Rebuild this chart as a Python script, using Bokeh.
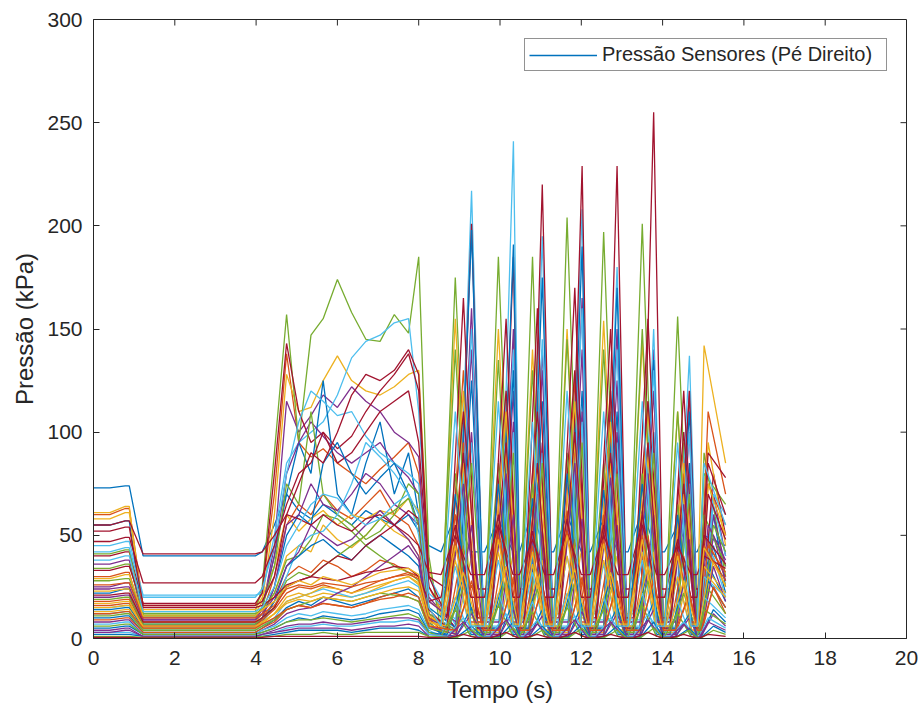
import math
from bokeh.plotting import figure
from bokeh.models import Range1d, FixedTicker, Legend, LegendItem, ColumnDataSource
from bokeh.embed import file_html
from bokeh.resources import INLINE

# MATLAB default colour order (sensor i uses COLORS[i % 7])
COLORS = ["#0072BD", "#D95319", "#EDB120", "#7E2F8E", "#77AC30", "#4DBEEE", "#A2142F"]

X_TICKS = [0, 2, 4, 6, 8, 10, 12, 14, 16, 18, 20]
Y_TICKS = [0, 50, 100, 150, 200, 250, 300]

# ---- key times (s) ----
T_START = [0.0, 0.4, 0.78, 0.88, 1.22, 3.98]       # initial plateau, bump, drop, rest
STANCE_T = [4.15, 4.45, 4.75, 5.05, 5.35, 5.65, 6.0, 6.35, 6.7, 7.05, 7.4, 7.75, 8.0, 8.25]
H_UP = [8.55, 9.62, 10.48, 11.32, 12.22, 13.15, 14.05, 14.85]
H_PK = [8.90, 9.96, 10.80, 11.65, 12.55, 13.50, 14.37, 15.02]
H_DN = [9.28, 10.32, 11.10, 12.00, 12.90, 13.85, 14.70, 15.30]
M_UP = [8.70, 9.75, 10.58, 11.45, 12.35, 13.28, 14.18, 14.90]
M_PK = [9.10, 10.15, 10.92, 11.84, 12.72, 13.64, 14.52, 15.12]
M_DN = [9.45, 10.45, 11.22, 12.15, 13.05, 13.98, 14.82, 15.40]
F_UP = [8.92, 9.98, 10.72, 11.68, 12.55, 13.45, 14.32, 14.95]
F_PK = [9.30, 10.33, 11.04, 12.02, 12.88, 13.78, 14.66, 15.25]
F_DN = [9.60, 10.50, 11.30, 12.22, 13.12, 14.02, 14.86, 15.45]
T_END = 15.55

# ---- sensor values (kPa) ----
INIT = [73, 60, 61, 36, 34, 45, 40,
        55, 30, 58, 25, 41, 42, 47,
        22, 18, 23, 20, 28, 15, 52,
        14, 16, 13, 24, 19, 12, 55,
        10, 9, 17, 8, 11, 7, 21,
        5, 26, 15, 4, 6, 3, 33,
        2, 12, 29, 3, 1, 38, 0.5]
INIT_BUMP = [74, 63, 64, 38, 36, 47, 42,
             57, 32, 61, 27, 43, 44, 49,
             24, 19, 24, 21, 29, 16, 54,
             15, 17, 14, 25, 20, 13, 57,
             11, 10, 18, 9, 12, 8, 22,
             6, 27, 16, 5, 7, 3, 35,
             2, 13, 31, 4, 1, 40, 0.5]
REST = [40, 16, 12, 9, 13, 21, 17,
        11, 8, 14, 10, 11, 20, 27,
        7, 6, 8, 6, 12, 5, 16,
        5, 6, 4, 9, 7, 4, 41,
        3, 3, 5, 2, 4, 2, 8,
        2, 10, 6, 1, 2, 1, 15,
        1, 5, 11, 1, 0.5, 13, 0.3]
STANCE = [
    [42, 55, 70, 62, 58, 65, 60, 55, 62, 58, 55, 60, 52, 45],
    [22, 70, 138, 95, 88, 92, 85, 80, 75, 82, 88, 95, 80, 25],
    [18, 60, 128, 110, 112, 125, 137, 125, 120, 118, 122, 128, 130, 35],
    [14, 45, 115, 100, 108, 118, 112, 122, 115, 110, 100, 95, 88, 20],
    [25, 90, 157, 95, 147, 155, 174, 158, 145, 144, 157, 148, 185, 40],
    [22, 50, 85, 95, 100, 105, 118, 136, 144, 147, 153, 155, 110, 30],
    [22, 80, 143, 110, 95, 100, 92, 98, 110, 120, 128, 138, 120, 25],
    [15, 40, 70, 95, 80, 125, 70, 60, 85, 105, 70, 90, 60, 15],
    [12, 30, 55, 65, 60, 70, 62, 58, 65, 72, 60, 55, 45, 12],
    [20, 35, 60, 52, 58, 62, 55, 60, 58, 62, 60, 68, 62, 18],
    [15, 40, 80, 95, 105, 98, 90, 85, 90, 95, 85, 78, 70, 18],
    [15, 35, 75, 65, 110, 70, 60, 55, 48, 52, 60, 75, 70, 15],
    [24, 45, 80, 105, 120, 115, 108, 110, 98, 90, 85, 80, 75, 22],
    [30, 45, 65, 80, 85, 100, 85, 90, 100, 110, 115, 120, 95, 30],
    [10, 25, 50, 60, 55, 85, 95, 80, 70, 78, 85, 70, 55, 10],
    [10, 18, 30, 35, 32, 38, 35, 30, 33, 38, 36, 32, 30, 10],
    [12, 22, 40, 45, 42, 55, 48, 44, 50, 58, 52, 48, 40, 12],
    [10, 25, 55, 60, 75, 65, 62, 70, 80, 75, 65, 60, 55, 12],
    [14, 22, 38, 40, 48, 60, 58, 52, 45, 40, 35, 32, 28, 8],
    [8, 15, 30, 45, 50, 52, 60, 75, 95, 88, 80, 70, 50, 10],
    [18, 30, 60, 75, 90, 85, 100, 118, 128, 125, 130, 140, 128, 30],
    [8, 18, 35, 40, 45, 48, 42, 38, 45, 50, 45, 40, 35, 8],
    [9, 14, 22, 25, 24, 26, 24, 22, 25, 28, 30, 32, 30, 9],
    [7, 12, 20, 22, 20, 22, 21, 20, 22, 25, 28, 30, 26, 8],
    [12, 20, 35, 42, 55, 50, 45, 48, 55, 62, 55, 48, 40, 10],
    [10, 15, 28, 32, 30, 35, 40, 45, 50, 58, 62, 68, 55, 12],
    [6, 10, 18, 20, 22, 24, 22, 20, 22, 24, 26, 28, 25, 6],
    [42, 50, 60, 58, 55, 60, 55, 52, 58, 60, 55, 50, 45, 32],
    [5, 9, 15, 18, 16, 20, 18, 16, 18, 20, 22, 24, 20, 5],
    [5, 8, 14, 16, 15, 17, 16, 15, 17, 20, 22, 20, 18, 5],
    [8, 12, 18, 20, 22, 25, 24, 22, 24, 26, 28, 30, 27, 7],
    [4, 7, 12, 14, 15, 18, 22, 25, 30, 35, 40, 45, 38, 6],
    [6, 9, 14, 16, 18, 20, 19, 18, 20, 22, 21, 20, 18, 5],
    [4, 6, 10, 12, 11, 13, 12, 11, 12, 14, 15, 16, 14, 4],
    [10, 15, 25, 28, 30, 35, 40, 38, 45, 50, 55, 62, 58, 14],
    [3, 5, 8, 10, 9, 11, 10, 9, 10, 12, 13, 14, 12, 3],
    [12, 16, 24, 26, 25, 27, 26, 25, 27, 28, 30, 31, 29, 10],
    [8, 12, 17, 19, 18, 20, 19, 18, 20, 22, 24, 25, 23, 8],
    [2, 4, 6, 7, 7, 8, 7, 7, 8, 9, 10, 10, 9, 2],
    [3, 5, 8, 9, 9, 10, 9, 8, 9, 10, 11, 12, 10, 3],
    [2, 3, 5, 6, 6, 7, 6, 6, 7, 8, 8, 9, 8, 2],
    [16, 20, 26, 28, 30, 29, 28, 30, 32, 33, 35, 34, 30, 18],
    [1, 2, 3, 4, 4, 4, 4, 3, 4, 5, 5, 5, 4, 1],
    [7, 10, 14, 16, 15, 17, 16, 15, 17, 19, 20, 22, 20, 6],
    [14, 18, 25, 28, 26, 30, 28, 26, 29, 32, 33, 34, 31, 11],
    [2, 3, 4, 5, 5, 5, 5, 4, 5, 6, 6, 7, 6, 1],
    [1, 1, 2, 2, 2, 3, 2, 2, 3, 3, 3, 3, 3, 1],
    [15, 25, 45, 55, 65, 70, 68, 60, 55, 58, 65, 70, 60, 15],
    [0.5, 1, 1, 1, 1, 1, 1, 1, 1, 1, 1, 1, 1, 0.5],
]
BASE = [42, 8, 10, 5, 3, 6, 4,
        5, 6, 12, 8, 6, 9, 24,
        3, 4, 5, 4, 3, 2, 10,
        2, 4, 3, 5, 4, 3, 31,
        2, 2, 4, 2, 3, 1, 5,
        1, 8, 6, 1, 1, 1, 20,
        0.5, 4, 7, 0.5, 0.3, 6, 0.2]
GROUP = ["H", "M", "H", "F", "H", "F", "F",
         "F", "M", "M", "F", "H", "F", "M",
         "F", "H", "M", "F", "H", "F", "M",
         "H", "M", "F", "M", "F", "H", "H",
         "M", "F", "H", "F", "M", "H", "M",
         "F", "H", "M", "F", "H", "M", "H",
         "F", "F", "H", "M", "F", "H", "M"]
PEAKS = [
    [60, 58, 62, 60, 58, 62, 55, 50],
    [130, 115, 120, 125, 110, 115, 95, 75],
    [155, 150, 140, 150, 154, 144, 110, 142],
    [160, 150, 140, 165, 150, 140, 120, 70],
    [175, 185, 185, 204, 197, 201, 156, 90],
    [217, 241, 195, 208, 180, 150, 137, 70],
    [201, 185, 220, 229, 229, 255, 120, 80],
    [198, 191, 175, 190, 170, 135, 110, 60],
    [95, 110, 85, 90, 100, 95, 80, 110],
    [120, 110, 100, 115, 105, 110, 85, 95],
    [140, 120, 130, 140, 125, 120, 100, 60],
    [140, 135, 130, 145, 140, 150, 110, 80],
    [150, 140, 145, 160, 140, 130, 100, 65],
    [110, 120, 110, 130, 120, 115, 100, 90],
    [125, 130, 115, 120, 110, 100, 85, 45],
    [60, 55, 58, 62, 60, 58, 45, 50],
    [85, 90, 80, 95, 85, 88, 70, 75],
    [100, 105, 95, 110, 100, 95, 80, 50],
    [80, 85, 75, 90, 85, 80, 65, 60],
    [95, 100, 90, 105, 95, 100, 75, 40],
    [165, 155, 160, 170, 150, 155, 120, 85],
    [70, 75, 68, 80, 72, 75, 60, 40],
    [45, 50, 42, 48, 45, 50, 40, 45],
    [40, 42, 38, 45, 40, 42, 35, 38],
    [75, 80, 70, 85, 78, 80, 65, 55],
    [85, 90, 85, 95, 80, 90, 70, 55],
    [35, 38, 32, 40, 36, 38, 30, 30],
    [50, 55, 48, 52, 50, 55, 45, 40],
    [30, 35, 28, 32, 30, 34, 26, 28],
    [28, 30, 26, 30, 28, 30, 22, 25],
    [38, 42, 36, 40, 38, 42, 30, 35],
    [55, 60, 52, 58, 55, 60, 48, 35],
    [25, 28, 24, 27, 25, 28, 22, 24],
    [20, 22, 18, 22, 20, 22, 18, 20],
    [90, 95, 85, 100, 90, 95, 75, 70],
    [15, 18, 14, 17, 15, 18, 12, 14],
    [48, 50, 45, 52, 48, 50, 42, 45],
    [32, 35, 30, 34, 32, 35, 28, 30],
    [12, 14, 11, 13, 12, 14, 10, 12],
    [14, 16, 13, 15, 14, 16, 12, 14],
    [10, 12, 9, 11, 10, 12, 8, 10],
    [55, 60, 52, 58, 55, 60, 48, 50],
    [6, 8, 6, 7, 6, 8, 5, 6],
    [26, 28, 24, 28, 26, 28, 22, 25],
    [45, 48, 42, 50, 46, 48, 40, 44],
    [8, 9, 7, 9, 8, 9, 7, 8],
    [4, 5, 4, 5, 4, 5, 4, 4],
    [110, 115, 105, 120, 110, 115, 95, 85],
    [2, 3, 2, 3, 2, 3, 2, 2],
]
END = [45, 55, 85, 40, 30, 60, 50,
       25, 70, 45, 35, 65, 40, 78,
       22, 30, 50, 28, 35, 20, 60,
       18, 32, 25, 38, 42, 20, 34,
       15, 12, 22, 18, 12, 10, 48,
       8, 28, 20, 6, 7, 5, 36,
       3, 15, 26, 4, 2, 55, 1]

TIMES = {"H": (H_UP, H_PK, H_DN), "M": (M_UP, M_PK, M_DN), "F": (F_UP, F_PK, F_DN)}

xs, ys, cols = [], [], []
for i in range(len(INIT)):
    up, pk, dn = TIMES[GROUP[i]]
    x = list(T_START)
    y = [INIT[i], INIT[i], INIT_BUMP[i], INIT_BUMP[i], REST[i], REST[i]]
    x += STANCE_T
    y += STANCE[i]
    for k in range(len(pk)):
        if k < len(pk) - 1:
            x += [up[k], pk[k], dn[k]]
            y += [BASE[i], PEAKS[i][k], BASE[i]]
        else:
            x += [up[k], pk[k], T_END]
            y += [BASE[i], PEAKS[i][k], END[i]]
    xs.append(x)
    ys.append(y)
    cols.append(COLORS[i % 7])

src = ColumnDataSource(dict(xs=xs, ys=ys, color=cols))

TXT = "#262626"
FONT = "Liberation Sans"
X0, X1 = X_TICKS[0], X_TICKS[-1]
Y0, Y1 = Y_TICKS[0], Y_TICKS[-1]

p = figure(width=922, height=711, output_backend="svg", toolbar_location=None,
           x_range=Range1d(X0, X1), y_range=Range1d(Y0, Y1),
           min_border_left=93, min_border_right=16, min_border_top=19, min_border_bottom=73,
           background_fill_color="white", border_fill_color="white")
p.grid.visible = False
p.outline_line_color = TXT
p.outline_line_width = 1

r = p.multi_line(xs="xs", ys="ys", line_color="color", line_width=1.3, source=src)

# inward ticks on the top and right edges of the box (MATLAB "box on")
p.ray(x=X_TICKS[1:-1], y=[Y1] * (len(X_TICKS) - 2), length=6, length_units="screen",
      angle=-math.pi / 2, line_color=TXT, line_width=1)
p.ray(x=[X1] * (len(Y_TICKS) - 2), y=Y_TICKS[1:-1], length=6, length_units="screen",
      angle=math.pi, line_color=TXT, line_width=1)

xa = p.xaxis[0]
ya = p.yaxis[0]
xa.ticker = FixedTicker(ticks=X_TICKS)
ya.ticker = FixedTicker(ticks=Y_TICKS)
xa.axis_label = "Tempo (s)"
ya.axis_label = "Pressão (kPa)"
for ax in (xa, ya):
    ax.major_tick_in = 6
    ax.major_tick_out = 0
    ax.minor_tick_in = 0
    ax.minor_tick_out = 0
    ax.major_tick_line_color = TXT
    ax.axis_line_color = TXT
    ax.major_label_text_font = FONT
    ax.major_label_text_font_size = "21px"
    ax.major_label_text_color = TXT
    ax.axis_label_text_font = FONT
    ax.axis_label_text_font_size = "24px"
    ax.axis_label_text_font_style = "normal"
    ax.axis_label_text_color = TXT
xa.major_label_standoff = 12
xa.axis_label_standoff = 8
ya.major_label_standoff = 11
ya.axis_label_standoff = 6

legend = Legend(items=[LegendItem(label="Pressão Sensores (Pé Direito)", renderers=[r], index=0)],
                location="top_right", margin=19, padding=4, spacing=0,
                glyph_width=68, glyph_height=20, label_height=20, label_standoff=5,
                label_width=280,
                label_text_font=FONT, label_text_font_size="20px", label_text_color=TXT,
                border_line_color=TXT, border_line_width=1,
                background_fill_color="white", background_fill_alpha=1.0)
p.add_layout(legend, "center")

open("out.html", "w").write(file_html(p, INLINE))
